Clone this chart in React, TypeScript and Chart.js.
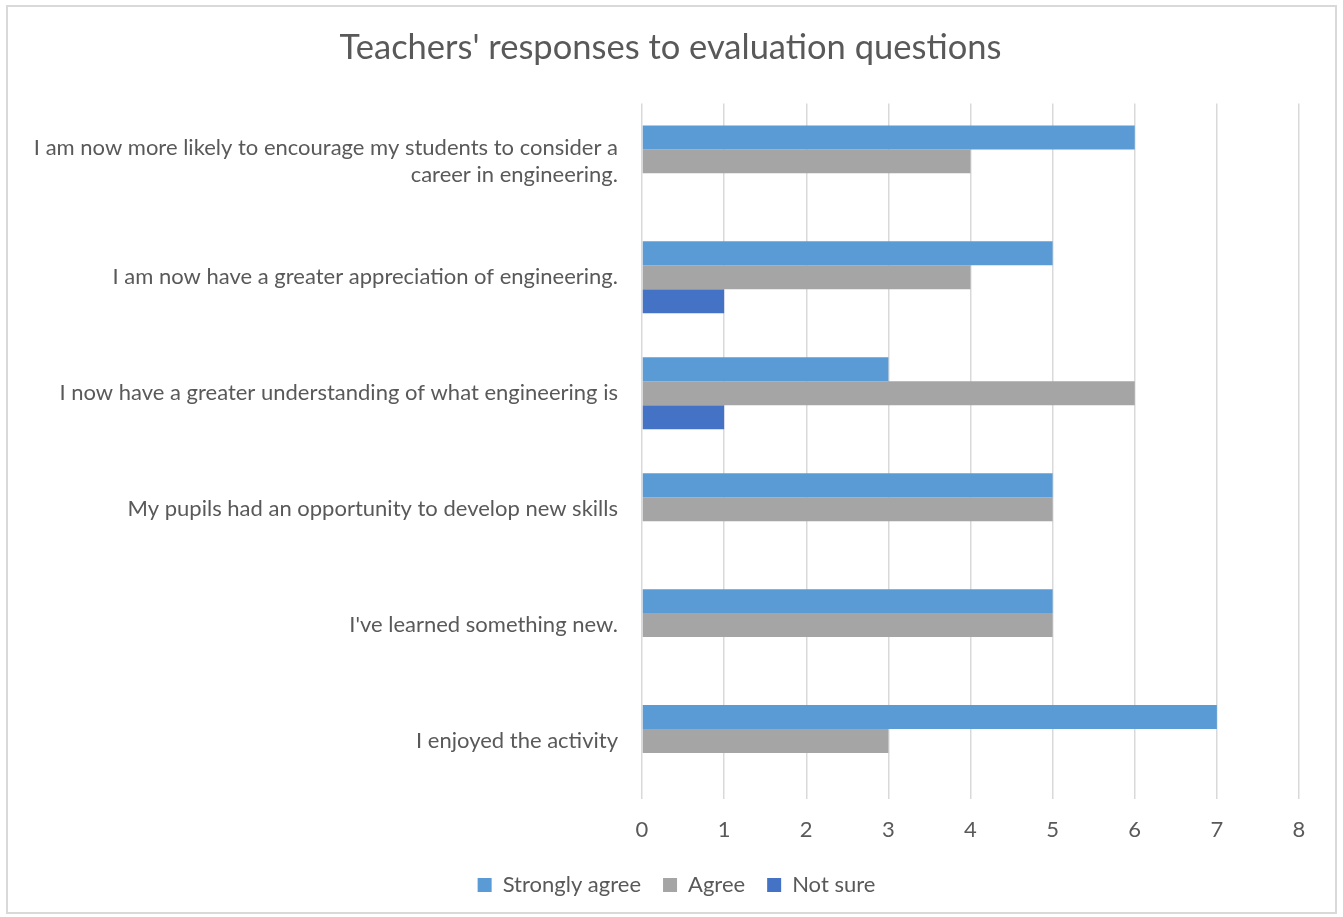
import React, { useEffect, useRef } from "react";
import { Chart, registerables } from "chart.js";

Chart.register(...registerables);

const categories: (string | string[])[] = [
  ["I am now more likely to encourage my students to consider a", "career in engineering."],
  "I am now have a greater appreciation of engineering.",
  "I now have a greater understanding of what engineering is",
  "My pupils had an opportunity to develop new skills",
  "I've learned something new.",
  "I enjoyed the activity",
];
const stronglyAgree = [6, 5, 3, 5, 5, 7];
const agree = [4, 4, 6, 5, 5, 3];
const notSure = [0, 1, 1, 0, 0, 0];
const xTicks = [0, 1, 2, 3, 4, 5, 6, 7, 8];

const FONT = "Lato";
const TEXT = "#595959";

// shift title/legend boxes horizontally to match the reference centring
const shiftBoxes = {
  id: "shiftBoxes",
  afterLayout(chart: any) {
    const t = chart.titleBlock;
    if (t) {
      t.left += 21;
      t.right += 21;
    }
    const l = chart.legend;
    if (l) {
      l.left += 27;
      l.right += 27;
    }
  },
};

export default function App() {
  const ref = useRef<HTMLCanvasElement>(null);
  useEffect(() => {
    if (!ref.current) return;
    const chart = new Chart(ref.current, {
      type: "bar",
      data: {
        labels: categories,
        datasets: [
          { label: "Strongly agree", data: stronglyAgree, backgroundColor: "#5B9BD5" },
          { label: "Agree", data: agree, backgroundColor: "#A5A5A5" },
          { label: "Not sure", data: notSure, backgroundColor: "#4472C4" },
        ],
      },
      plugins: [shiftBoxes],
      options: {
        indexAxis: "y",
        animation: false,
        responsive: false,
        maintainAspectRatio: false,
        layout: { padding: { left: 0, right: 44, top: 0, bottom: 11 } },
        datasets: { bar: { categoryPercentage: 0.62, barPercentage: 1.0 } },
        plugins: {
          title: {
            display: true,
            text: "Teachers' responses to evaluation questions",
            color: TEXT,
            font: { family: FONT, size: 34.5, weight: "normal" },
            padding: { top: 27, bottom: 35 },
          },
          legend: {
            position: "bottom",
            labels: {
              color: TEXT,
              font: { family: FONT, size: 22 },
              boxWidth: 14,
              boxHeight: 14,
              padding: 22,
            },
          },
          tooltip: { enabled: false },
        },
        scales: {
          x: {
            min: 0,
            max: 8,
            afterBuildTicks: (s: any) => {
              s.ticks = xTicks.map((v) => ({ value: v }));
            },
            grid: { color: "#D9D9D9", lineWidth: 1.5, drawTicks: false },
            border: { display: false },
            ticks: { color: TEXT, font: { family: FONT, size: 22 }, padding: 18 },
            afterFit: (s: any) => {
              s.height = 53;
            },
          },
          y: {
            grid: { display: false, drawTicks: false },
            border: { display: false },
            ticks: {
              color: TEXT,
              font: { family: FONT, size: 22, lineHeight: "27px" },
              padding: 24,
              autoSkip: false,
            },
            afterFit: (s: any) => {
              s.width = 642;
            },
          },
        },
      },
    });
    return () => chart.destroy();
  }, []);
  return (
    <div style={{ position: "absolute", left: 0, top: 0, width: 1343, height: 917, background: "#fff" }}>
      <div
        style={{
          position: "absolute",
          left: 6,
          top: 5,
          width: 1331,
          height: 909,
          border: "2px solid #D9D9D9",
          boxSizing: "border-box",
        }}
      />
      <canvas ref={ref} width={1343} height={917} style={{ position: "absolute", left: 0, top: 0 }} />
    </div>
  );
}
